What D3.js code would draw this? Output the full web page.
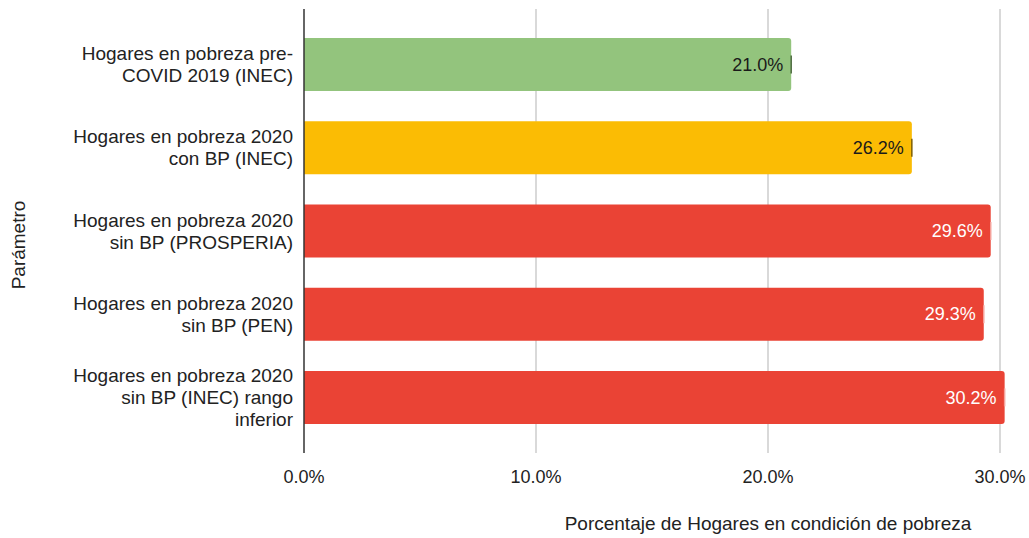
<!DOCTYPE html>
<html>
<head>
<meta charset="utf-8">
<script src="https://cdn.jsdelivr.net/npm/d3@7"></script>
<style>
  body { margin: 0; background: #fff; }
  svg { display: block; font-family: "Liberation Sans", Arial, sans-serif; }
  .grid line { stroke: #cccccc; }
</style>
</head>
<body>
<svg width="1029" height="538"></svg>
<script>
// categories (top to bottom), each label split into lines
const categories = [
  ["Hogares en pobreza pre-", "COVID 2019 (INEC)"],
  ["Hogares en pobreza 2020", "con BP (INEC)"],
  ["Hogares en pobreza 2020", "sin BP (PROSPERIA)"],
  ["Hogares en pobreza 2020", "sin BP (PEN)"],
  ["Hogares en pobreza 2020", "sin BP (INEC) rango", "inferior"]
];
const values = [21.0, 26.2, 29.6, 29.3, 30.2];
const barColors = ["#93c47d", "#fbbc04", "#ea4335", "#ea4335", "#ea4335"];
const errColors = ["#4d6b40", "#7d5e02", "#f5a19a", "#f5a19a", "#f5a19a"];
const labelColors = ["#1a1a1a", "#1a1a1a", "#ffffff", "#ffffff", "#ffffff"];
const xTicks = [0, 10, 20, 30];

const svg = d3.select("svg");
const plotL = 304, plotR = 1000, plotT = 9, plotB = 453;
const fsLabel = 19, fsNum = 18;

const x = d3.scaleLinear().domain([0, 30]).range([plotL, plotR]);
const y = d3.scaleBand()
  .domain(d3.range(categories.length))
  .range([plotT, plotB])
  .paddingInner(0.363)
  .paddingOuter(0.35);

// gridlines
svg.append("g").attr("class", "grid")
  .selectAll("line")
  .data(xTicks.slice(1))
  .join("line")
  .attr("x1", d => x(d)).attr("x2", d => x(d))
  .attr("y1", plotT).attr("y2", plotB)
  .attr("stroke-width", 1.5);

// bars
svg.append("g")
  .selectAll("path")
  .data(values)
  .join("path")
  .attr("fill", (d, i) => barColors[i])
  .attr("d", (d, i) => {
    const x0 = x(0), x1 = x(d), y0 = y(i), h = y.bandwidth(), r = 3;
    return `M${x0},${y0}H${x1 - r}Q${x1},${y0} ${x1},${y0 + r}V${y0 + h - r}Q${x1},${y0 + h} ${x1 - r},${y0 + h}H${x0}Z`;
  });

// small error markers at bar ends
svg.append("g")
  .selectAll("line")
  .data(values)
  .join("line")
  .attr("x1", d => x(d)).attr("x2", d => x(d))
  .attr("y1", (d, i) => y(i) + y.bandwidth() / 2 - 9)
  .attr("y2", (d, i) => y(i) + y.bandwidth() / 2 + 9)
  .attr("stroke", (d, i) => errColors[i])
  .attr("stroke-width", 1.5);

// value labels
svg.append("g")
  .selectAll("text")
  .data(values)
  .join("text")
  .attr("x", d => x(d) - 8)
  .attr("y", (d, i) => y(i) + y.bandwidth() / 2)
  .attr("dy", "0.35em")
  .attr("text-anchor", "end")
  .attr("font-size", fsNum)
  .attr("fill", (d, i) => labelColors[i])
  .text(d => d.toFixed(1) + "%");

// y axis line
svg.append("line")
  .attr("x1", plotL).attr("x2", plotL)
  .attr("y1", plotT).attr("y2", plotB)
  .attr("stroke", "#333").attr("stroke-width", 1.5);

// category labels
const lineH = 22;
svg.append("g")
  .selectAll("text")
  .data(categories)
  .join("text")
  .attr("text-anchor", "end")
  .attr("font-size", fsLabel)
  .attr("fill", "#222")
  .each(function (lines, i) {
    const cy = y(i) + y.bandwidth() / 2;
    const start = cy - (lines.length - 1) * lineH / 2;
    d3.select(this).selectAll("tspan")
      .data(lines)
      .join("tspan")
      .attr("x", 293)
      .attr("y", (l, j) => start + j * lineH)
      .attr("dy", "0.35em")
      .text(l => l);
  });

// x tick labels
svg.append("g")
  .selectAll("text")
  .data(xTicks)
  .join("text")
  .attr("x", d => x(d))
  .attr("y", 483)
  .attr("text-anchor", "middle")
  .attr("font-size", fsNum)
  .attr("fill", "#222")
  .text(d => d.toFixed(1) + "%");

// axis titles
svg.append("text")
  .attr("x", 768).attr("y", 530)
  .attr("text-anchor", "middle")
  .attr("font-size", fsLabel)
  .attr("fill", "#222")
  .text("Porcentaje de Hogares en condición de pobreza");

svg.append("text")
  .attr("transform", "translate(25,245) rotate(-90)")
  .attr("text-anchor", "middle")
  .attr("font-size", fsLabel)
  .attr("fill", "#222")
  .text("Parámetro");
</script>
</body>
</html>
